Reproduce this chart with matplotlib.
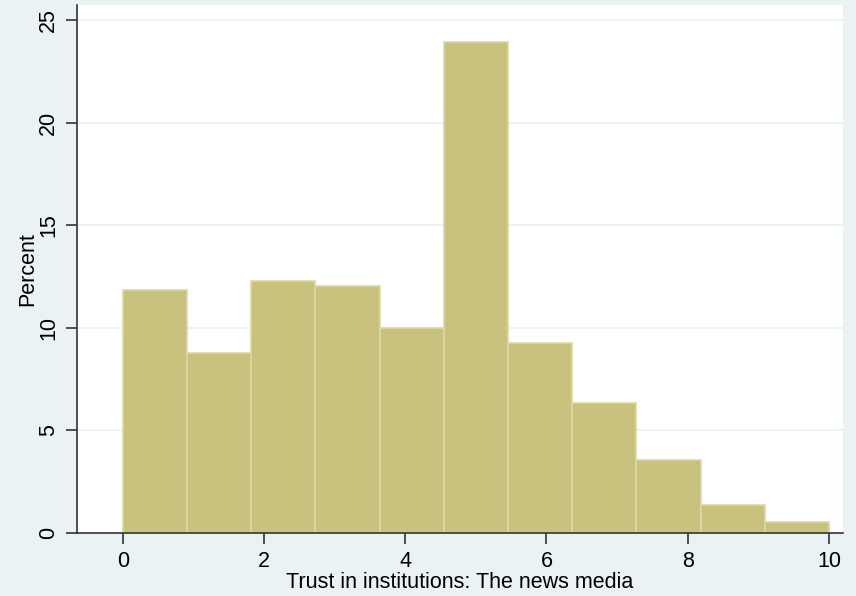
import matplotlib
matplotlib.use("Agg")
import matplotlib.pyplot as plt
import numpy as np

plt.rcParams["font.family"] = ["Liberation Sans", "DejaVu Sans"]

bin_edges = [i * 10 / 11 for i in range(12)]
percent = [11.84, 8.77, 12.28, 12.04, 9.99, 23.93, 9.26, 6.34, 3.56, 1.36, 0.54]
xticks = [0, 2, 4, 6, 8, 10]
yticks = [0, 5, 10, 15, 20, 25]

bg = "#EAF2F3"
fig = plt.figure(figsize=(8.56, 5.96), dpi=100, facecolor=bg)
ax = fig.add_axes([77/856, 1-533/596, (843-77)/856, (533-5)/596])
ax.set_facecolor("white")

lefts = bin_edges[:-1]
widths = np.diff(bin_edges)
ax.bar(lefts, percent, width=widths, align="edge", color="#C9C27F",
       edgecolor="#DDD8A4", linewidth=1.2, zorder=2)

ax.set_xlim(-0.65, 10.2)
ax.set_ylim(0, 25.74)
ax.set_xticks(xticks)
ax.set_yticks(yticks)
ax.set_yticklabels([str(t) for t in yticks], rotation=90, va="center")
ax.yaxis.grid(True, color=bg, linewidth=1.2, zorder=0)
ax.set_axisbelow(True)
for s in ["top", "right"]:
    ax.spines[s].set_visible(False)
for s in ["left", "bottom"]:
    ax.spines[s].set_color("#333333")
    ax.spines[s].set_linewidth(1.2)
ax.tick_params(axis="both", direction="out", length=8, width=1.2, color="#333333",
               labelsize=15.5, labelcolor="black", pad=5)
ax.set_ylabel("Percent", fontsize=15.5, labelpad=0)
ax.set_xlabel("Trust in institutions: The news media", fontsize=15.5, labelpad=0)

fig.savefig("out.png", dpi=100, facecolor=bg)
